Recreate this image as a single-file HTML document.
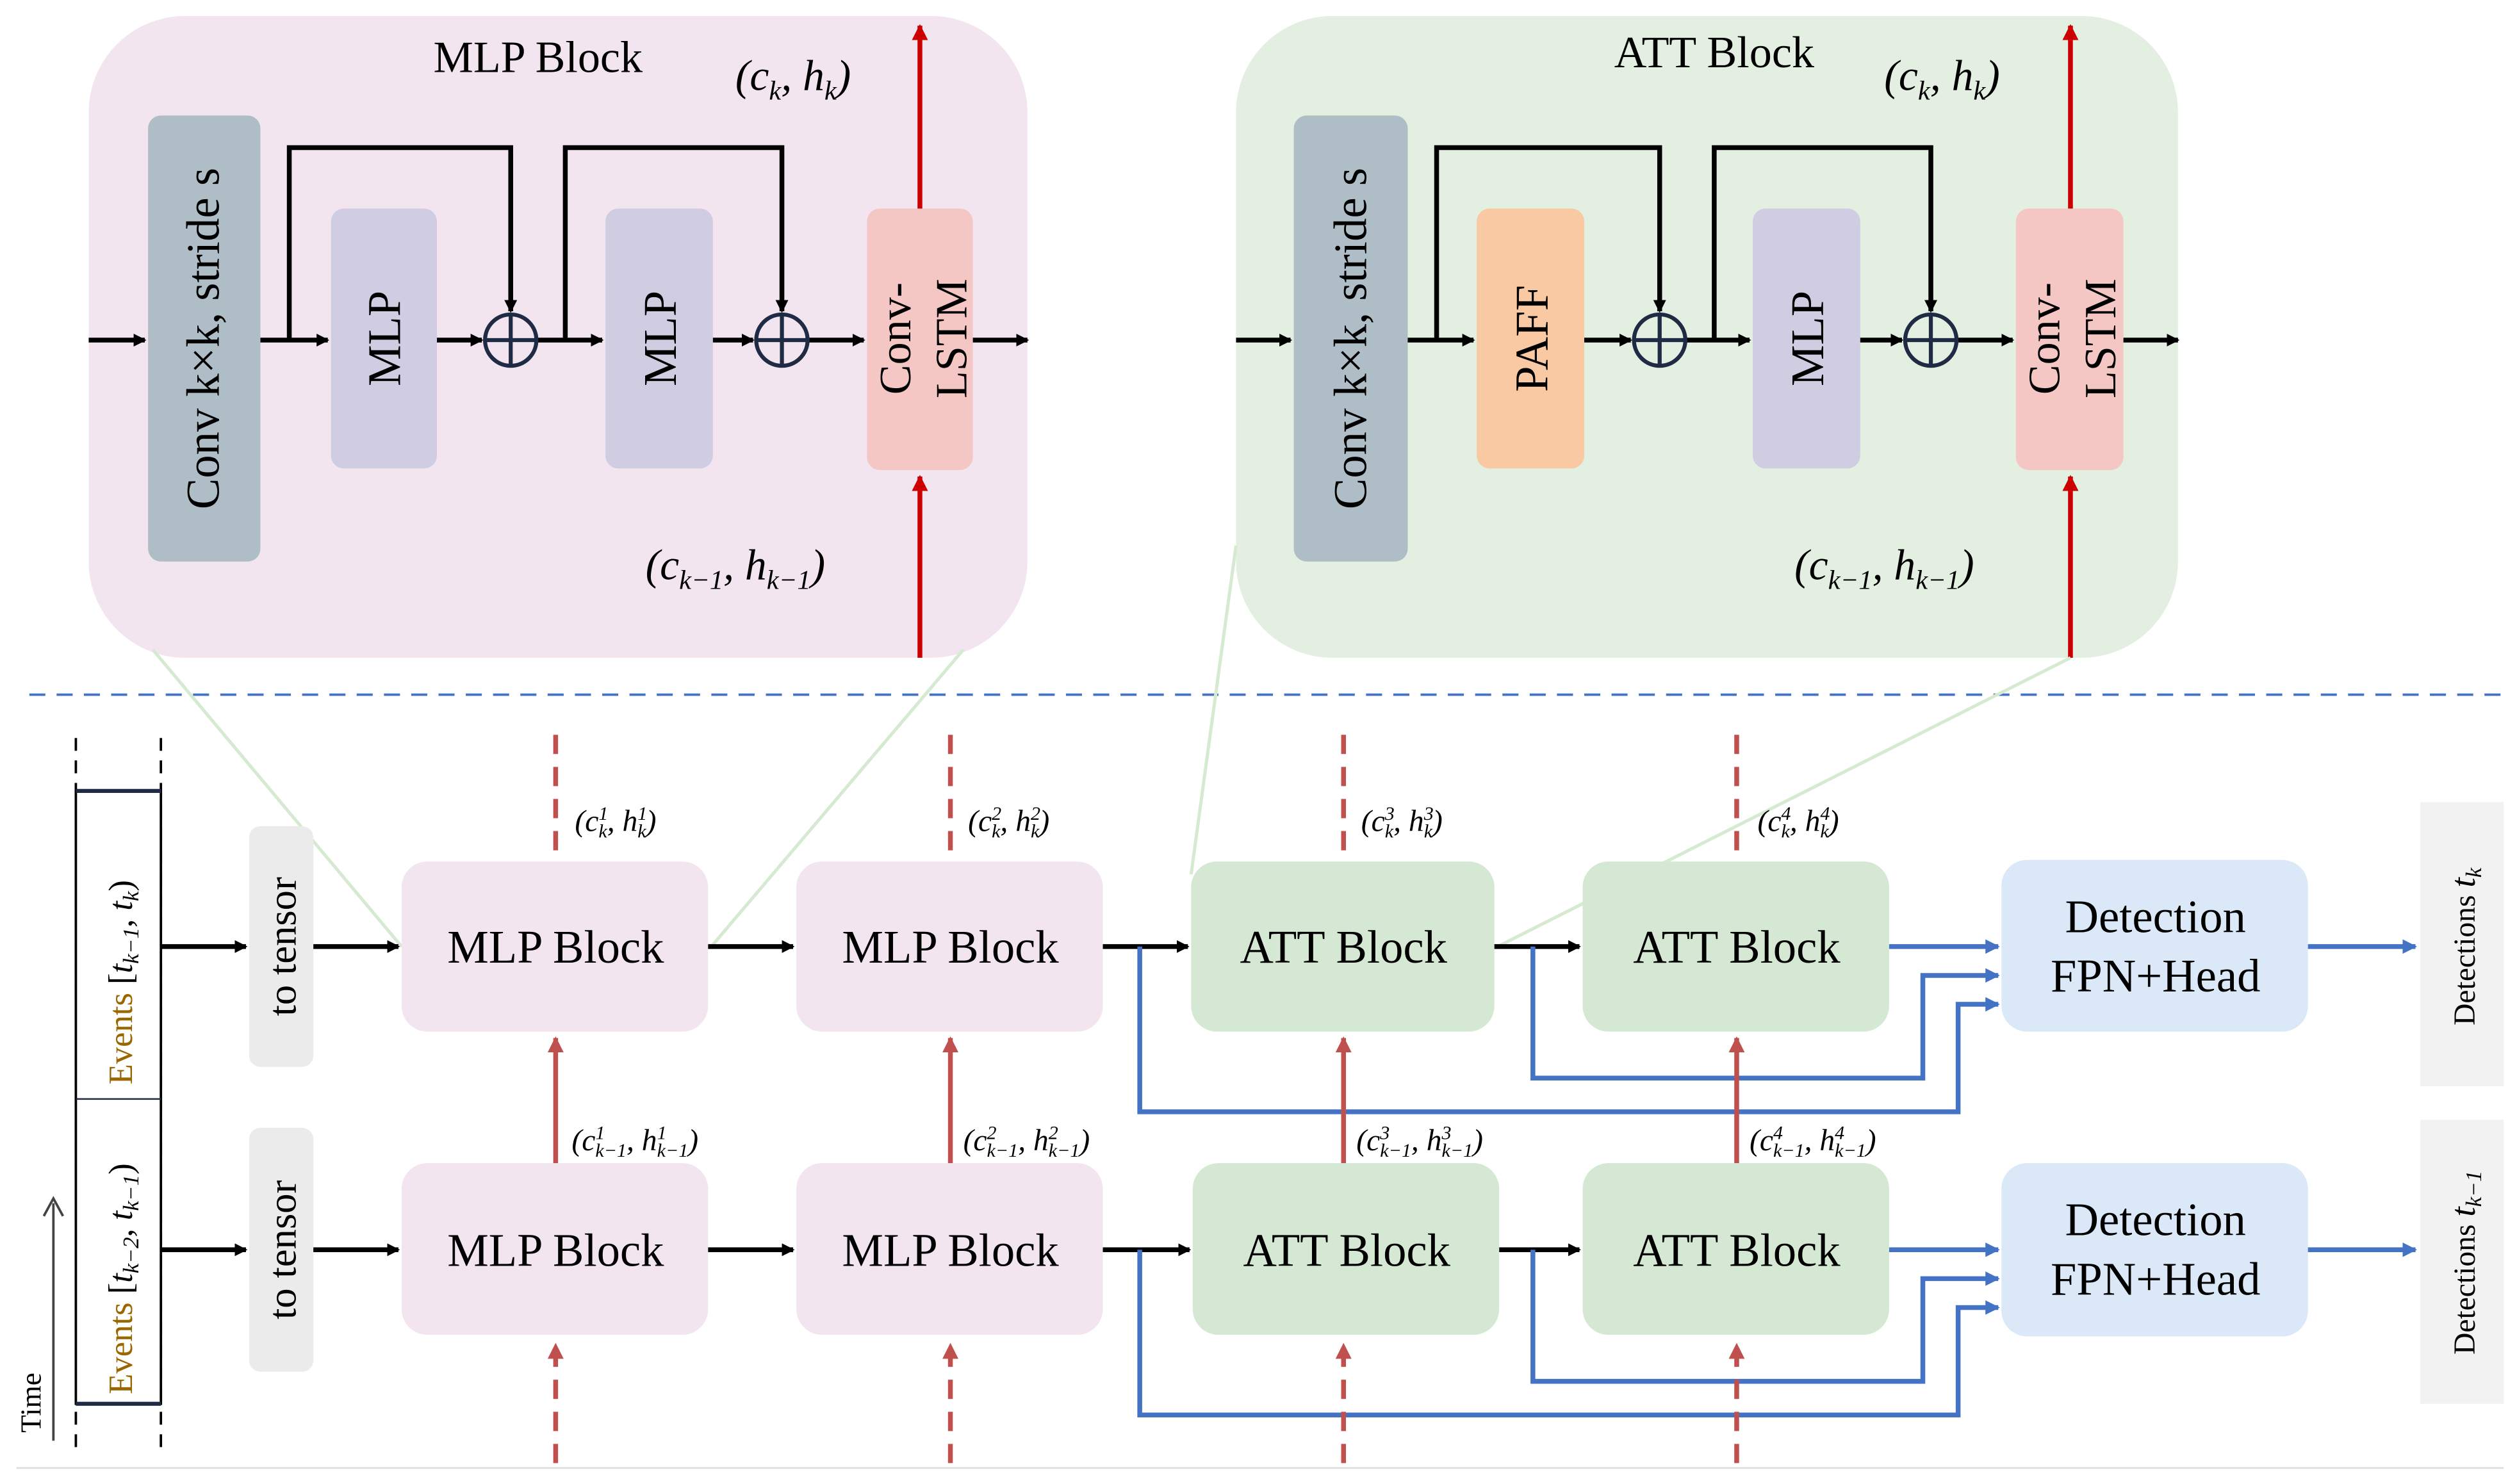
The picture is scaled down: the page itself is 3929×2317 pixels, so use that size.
<!DOCTYPE html>
<html><head><meta charset="utf-8"><style>
html,body{margin:0;padding:0;background:#fff}
svg{display:block}
svg, svg text, svg tspan{font-family:"Liberation Serif","DejaVu Serif",serif !important}
</style></head><body>
<svg width="3929" height="2317" viewBox="0 0 1568 925" xmlns="http://www.w3.org/2000/svg" font-family="Liberation Serif, serif">
<defs>
<marker id="ak" markerWidth="8" markerHeight="8" refX="7" refY="4" orient="auto" markerUnits="userSpaceOnUse"><path d="M0,0 L8,4 L0,8 z" fill="#000"/></marker>
<marker id="ar" markerWidth="10" markerHeight="10" refX="9" refY="5" orient="auto" markerUnits="userSpaceOnUse"><path d="M0,0 L10,5 L0,10 z" fill="#c0504d"/></marker>
<marker id="arr" markerWidth="10" markerHeight="10" refX="9" refY="5" orient="auto" markerUnits="userSpaceOnUse"><path d="M0,0 L10,5 L0,10 z" fill="#cc0000"/></marker>
<marker id="ab" markerWidth="9" markerHeight="9" refX="8" refY="4.5" orient="auto" markerUnits="userSpaceOnUse"><path d="M0,0 L9,4.5 L0,9 z" fill="#4472c4"/></marker>
</defs>

<!-- MLP panel -->
<rect x="55" y="10" width="585" height="400" rx="60" fill="#f2e5f0"/>
<rect x="92" y="72" width="70" height="278" rx="8" fill="#aebdc6"/>
<text transform="translate(136,211) rotate(-90)" font-size="29" text-anchor="middle">Conv k×k, stride s</text>
<rect x="206" y="130" width="66" height="162" rx="8" fill="#d0cde3"/>
<text transform="translate(249,211) rotate(-90)" font-size="29" text-anchor="middle">MLP</text>
<rect x="377" y="130" width="67" height="162" rx="8" fill="#d0cde3"/>
<text transform="translate(421,211) rotate(-90)" font-size="29" text-anchor="middle">MLP</text>
<rect x="540" y="130" width="66" height="163" rx="8" fill="#f5c7c4"/>
<text transform="translate(567,211) rotate(-90)" font-size="28" text-anchor="middle">Conv-</text>
<text transform="translate(602,211) rotate(-90)" font-size="28" text-anchor="middle">LSTM</text>
<g stroke="#000" stroke-width="3" fill="none">
<line x1="55" y1="212" x2="90" y2="212" marker-end="url(#ak)"/>
<line x1="162" y1="212" x2="204" y2="212" marker-end="url(#ak)"/>
<polyline points="180,212 180,92 318,92 318,194" marker-end="url(#ak)"/>
<line x1="272" y1="212" x2="300" y2="212" marker-end="url(#ak)"/>
<line x1="334" y1="212" x2="375" y2="212" marker-end="url(#ak)"/>
<polyline points="352,212 352,92 487,92 487,194" marker-end="url(#ak)"/>
<line x1="444" y1="212" x2="469" y2="212" marker-end="url(#ak)"/>
<line x1="503" y1="212" x2="538" y2="212" marker-end="url(#ak)"/>
<line x1="606" y1="212" x2="640" y2="212" marker-end="url(#ak)"/>
</g>
<g stroke="#1f2a44" stroke-width="2.5" fill="none">
<circle cx="318" cy="212" r="16"/><line x1="302" y1="212" x2="334" y2="212"/><line x1="318" y1="196" x2="318" y2="228"/>
<circle cx="487" cy="212" r="16"/><line x1="471" y1="212" x2="503" y2="212"/><line x1="487" y1="196" x2="487" y2="228"/>
</g>
<g stroke="#cc0000" stroke-width="3">
<line x1="573" y1="130" x2="573" y2="16" marker-end="url(#arr)"/>
<line x1="573" y1="410" x2="573" y2="297" marker-end="url(#arr)"/>
</g>
<text x="335" y="45" font-size="28" text-anchor="middle">MLP Block</text>
<text x="494" y="56" font-size="27" text-anchor="middle" font-style="italic">(c<tspan font-size="17" dy="6">k</tspan><tspan dy="-6">, h</tspan><tspan font-size="17" dy="6">k</tspan><tspan dy="-6">)</tspan></text>
<text x="458" y="361" font-size="27" text-anchor="middle" font-style="italic">(c<tspan font-size="17" dy="6">k−1</tspan><tspan dy="-6">, h</tspan><tspan font-size="17" dy="6">k−1</tspan><tspan dy="-6">)</tspan></text>

<!-- ATT panel -->
<rect x="770" y="10" width="587" height="400" rx="60" fill="#e3efe0"/>
<rect x="806" y="72" width="71" height="278" rx="8" fill="#aebdc6"/>
<text transform="translate(851,211) rotate(-90)" font-size="29" text-anchor="middle">Conv k×k, stride s</text>
<rect x="920" y="130" width="67" height="162" rx="8" fill="#f8c9a3"/>
<text transform="translate(964,211) rotate(-90)" font-size="29" text-anchor="middle">PAFF</text>
<rect x="1092" y="130" width="67" height="162" rx="8" fill="#d0cde3"/>
<text transform="translate(1136,211) rotate(-90)" font-size="29" text-anchor="middle">MLP</text>
<rect x="1256" y="130" width="67" height="163" rx="8" fill="#f5c7c4"/>
<text transform="translate(1283,211) rotate(-90)" font-size="28" text-anchor="middle">Conv-</text>
<text transform="translate(1318,211) rotate(-90)" font-size="28" text-anchor="middle">LSTM</text>
<g stroke="#000" stroke-width="3" fill="none">
<line x1="770" y1="212" x2="804" y2="212" marker-end="url(#ak)"/>
<line x1="877" y1="212" x2="918" y2="212" marker-end="url(#ak)"/>
<polyline points="895,212 895,92 1034,92 1034,194" marker-end="url(#ak)"/>
<line x1="987" y1="212" x2="1016" y2="212" marker-end="url(#ak)"/>
<line x1="1050" y1="212" x2="1090" y2="212" marker-end="url(#ak)"/>
<polyline points="1068,212 1068,92 1203,92 1203,194" marker-end="url(#ak)"/>
<line x1="1159" y1="212" x2="1185" y2="212" marker-end="url(#ak)"/>
<line x1="1219" y1="212" x2="1254" y2="212" marker-end="url(#ak)"/>
<line x1="1323" y1="212" x2="1357" y2="212" marker-end="url(#ak)"/>
</g>
<g stroke="#1f2a44" stroke-width="2.5" fill="none">
<circle cx="1034" cy="212" r="16"/><line x1="1018" y1="212" x2="1050" y2="212"/><line x1="1034" y1="196" x2="1034" y2="228"/>
<circle cx="1203" cy="212" r="16"/><line x1="1187" y1="212" x2="1219" y2="212"/><line x1="1203" y1="196" x2="1203" y2="228"/>
</g>
<g stroke="#cc0000" stroke-width="3">
<line x1="1290" y1="130" x2="1290" y2="16" marker-end="url(#arr)"/>
<line x1="1290" y1="410" x2="1290" y2="297" marker-end="url(#arr)"/>
</g>
<text x="1068" y="42" font-size="28" text-anchor="middle">ATT Block</text>
<text x="1210" y="56" font-size="27" text-anchor="middle" font-style="italic">(c<tspan font-size="17" dy="6">k</tspan><tspan dy="-6">, h</tspan><tspan font-size="17" dy="6">k</tspan><tspan dy="-6">)</tspan></text>
<text x="1174" y="361" font-size="27" text-anchor="middle" font-style="italic">(c<tspan font-size="17" dy="6">k−1</tspan><tspan dy="-6">, h</tspan><tspan font-size="17" dy="6">k−1</tspan><tspan dy="-6">)</tspan></text>

<!-- divider -->
<line x1="18" y1="433" x2="1558" y2="433" stroke="#4472c4" stroke-width="1.5" stroke-dasharray="10,7"/>

<!-- green zoom lines -->
<g stroke="#d5ead0" stroke-width="2" fill="none">
<line x1="95" y1="405" x2="250" y2="590"/>
<line x1="600" y1="405" x2="443" y2="590"/>
<line x1="770" y1="340" x2="742" y2="545"/>
<line x1="1290" y1="410" x2="933" y2="590"/>
</g>

<!-- events column -->
<g stroke="#000" stroke-width="1.5" stroke-dasharray="8,6">
<line x1="47" y1="460" x2="47" y2="905"/><line x1="100" y1="460" x2="100" y2="905"/>
</g>
<rect x="47" y="493" width="53" height="382" fill="#fff" stroke="#000" stroke-width="1.5"/>
<line x1="47" y1="493" x2="100" y2="493" stroke="#1f2a44" stroke-width="2.5"/>
<line x1="47" y1="875" x2="100" y2="875" stroke="#1f2a44" stroke-width="2.5"/>
<line x1="47" y1="685" x2="100" y2="685" stroke="#1f2a44" stroke-width="1"/>
<text transform="translate(82,676) rotate(-90)" font-size="21"><tspan fill="#996600">Events</tspan> [<tspan font-style="italic">t</tspan><tspan font-size="14" font-style="italic" dy="4">k−1</tspan><tspan dy="-4">,  </tspan><tspan font-style="italic">t</tspan><tspan font-size="14" font-style="italic" dy="4">k</tspan><tspan dy="-4">)</tspan></text>
<text transform="translate(82,869) rotate(-90)" font-size="21"><tspan fill="#996600">Events</tspan> [<tspan font-style="italic">t</tspan><tspan font-size="14" font-style="italic" dy="4">k−2</tspan><tspan dy="-4">,  </tspan><tspan font-style="italic">t</tspan><tspan font-size="14" font-style="italic" dy="4">k−1</tspan><tspan dy="-4">)</tspan></text>
<line x1="33" y1="898" x2="33" y2="750" stroke="#444" stroke-width="1.5"/>
<path d="M27,758 L33,747 L39,758" fill="none" stroke="#444" stroke-width="1.5"/>
<text transform="translate(25,893) rotate(-90)" font-size="18">Time</text>

<!-- to tensor -->
<rect x="155" y="515" width="40" height="150" rx="7" fill="#ebebeb"/>
<text transform="translate(184,590) rotate(-90)" font-size="25" text-anchor="middle">to tensor</text>
<rect x="155" y="703" width="40" height="152" rx="7" fill="#ebebeb"/>
<text transform="translate(184,779) rotate(-90)" font-size="25" text-anchor="middle">to tensor</text>

<!-- blocks -->
<g font-size="29" text-anchor="middle">
<rect x="250" y="537" width="191" height="106" rx="16" fill="#f2e5f0"/><text x="346" y="600">MLP Block</text>
<rect x="496" y="537" width="191" height="106" rx="16" fill="#f2e5f0"/><text x="592" y="600">MLP Block</text>
<rect x="742" y="537" width="189" height="106" rx="16" fill="#d5e8d4"/><text x="837" y="600">ATT Block</text>
<rect x="986" y="537" width="191" height="106" rx="16" fill="#d5e8d4"/><text x="1082" y="600">ATT Block</text>
<rect x="250" y="725" width="191" height="107" rx="16" fill="#f2e5f0"/><text x="346" y="789">MLP Block</text>
<rect x="496" y="725" width="191" height="107" rx="16" fill="#f2e5f0"/><text x="592" y="789">MLP Block</text>
<rect x="743" y="725" width="191" height="107" rx="16" fill="#d5e8d4"/><text x="839" y="789">ATT Block</text>
<rect x="986" y="725" width="191" height="107" rx="16" fill="#d5e8d4"/><text x="1082" y="789">ATT Block</text>
<rect x="1247" y="536" width="191" height="107" rx="16" fill="#dae8f8"/><text x="1343" y="581">Detection</text><text x="1343" y="618">FPN+Head</text>
<rect x="1247" y="725" width="191" height="108" rx="16" fill="#dae8f8"/><text x="1343" y="770">Detection</text><text x="1343" y="807">FPN+Head</text>
</g>
<rect x="1508" y="500" width="52" height="177" fill="#f2f2f2"/>
<text transform="translate(1542,590) rotate(-90)" font-size="19" text-anchor="middle">Detections <tspan font-style="italic" font-size="22">t</tspan><tspan font-size="14" font-style="italic" dy="4">k</tspan></text>
<rect x="1508" y="698" width="52" height="177" fill="#f2f2f2"/>
<text transform="translate(1542,787) rotate(-90)" font-size="19" text-anchor="middle">Detections <tspan font-style="italic" font-size="22">t</tspan><tspan font-size="14" font-style="italic" dy="4">k−1</tspan></text>

<!-- black row arrows -->
<g stroke="#000" stroke-width="3">
<line x1="100" y1="590" x2="153" y2="590" marker-end="url(#ak)"/>
<line x1="195" y1="590" x2="248" y2="590" marker-end="url(#ak)"/>
<line x1="441" y1="590" x2="494" y2="590" marker-end="url(#ak)"/>
<line x1="687" y1="590" x2="740" y2="590" marker-end="url(#ak)"/>
<line x1="931" y1="590" x2="984" y2="590" marker-end="url(#ak)"/>
<line x1="100" y1="779" x2="153" y2="779" marker-end="url(#ak)"/>
<line x1="195" y1="779" x2="248" y2="779" marker-end="url(#ak)"/>
<line x1="441" y1="779" x2="494" y2="779" marker-end="url(#ak)"/>
<line x1="687" y1="779" x2="741" y2="779" marker-end="url(#ak)"/>
<line x1="934" y1="779" x2="984" y2="779" marker-end="url(#ak)"/>
</g>

<!-- blue -->
<g stroke="#4472c4" stroke-width="3" fill="none">
<line x1="1177" y1="590" x2="1245" y2="590" marker-end="url(#ab)"/>
<polyline points="955,590 955,672 1198,672 1198,608 1245,608" marker-end="url(#ab)"/>
<polyline points="710,590 710,693 1220,693 1220,626 1245,626" marker-end="url(#ab)"/>
<line x1="1438" y1="590" x2="1505" y2="590" marker-end="url(#ab)"/>
<line x1="1177" y1="779" x2="1245" y2="779" marker-end="url(#ab)"/>
<polyline points="955,779 955,861 1198,861 1198,797 1245,797" marker-end="url(#ab)"/>
<polyline points="710,779 710,882 1220,882 1220,815 1245,815" marker-end="url(#ab)"/>
<line x1="1438" y1="779" x2="1505" y2="779" marker-end="url(#ab)"/>
</g>

<!-- red verticals -->
<g stroke="#c0504d" stroke-width="3">
<g stroke-dasharray="12,8">
<line x1="346" y1="458" x2="346" y2="535"/><line x1="592" y1="458" x2="592" y2="535"/>
<line x1="837" y1="458" x2="837" y2="535"/><line x1="1082" y1="458" x2="1082" y2="535"/>
<line x1="346" y1="912" x2="346" y2="838" marker-end="url(#ar)"/><line x1="592" y1="912" x2="592" y2="838" marker-end="url(#ar)"/>
<line x1="837" y1="912" x2="837" y2="838" marker-end="url(#ar)"/><line x1="1082" y1="912" x2="1082" y2="838" marker-end="url(#ar)"/>
</g>
<line x1="346" y1="725" x2="346" y2="647" marker-end="url(#ar)"/><line x1="592" y1="725" x2="592" y2="647" marker-end="url(#ar)"/>
<line x1="837" y1="725" x2="837" y2="647" marker-end="url(#ar)"/><line x1="1082" y1="725" x2="1082" y2="647" marker-end="url(#ar)"/>
</g>

<!-- state labels -->
<g font-size="19" font-style="italic">
<text x="358" y="518">(c<tspan font-size="12" dy="-7">1</tspan><tspan font-size="12" dx="-6" dy="11">k</tspan><tspan dy="-4">, h</tspan><tspan font-size="12" dy="-7">1</tspan><tspan font-size="12" dx="-6" dy="11">k</tspan><tspan dy="-4">)</tspan></text>
<text x="603" y="518">(c<tspan font-size="12" dy="-7">2</tspan><tspan font-size="12" dx="-6" dy="11">k</tspan><tspan dy="-4">, h</tspan><tspan font-size="12" dy="-7">2</tspan><tspan font-size="12" dx="-6" dy="11">k</tspan><tspan dy="-4">)</tspan></text>
<text x="848" y="518">(c<tspan font-size="12" dy="-7">3</tspan><tspan font-size="12" dx="-6" dy="11">k</tspan><tspan dy="-4">, h</tspan><tspan font-size="12" dy="-7">3</tspan><tspan font-size="12" dx="-6" dy="11">k</tspan><tspan dy="-4">)</tspan></text>
<text x="1095" y="518">(c<tspan font-size="12" dy="-7">4</tspan><tspan font-size="12" dx="-6" dy="11">k</tspan><tspan dy="-4">, h</tspan><tspan font-size="12" dy="-7">4</tspan><tspan font-size="12" dx="-6" dy="11">k</tspan><tspan dy="-4">)</tspan></text>
<text x="356" y="717">(c<tspan font-size="12" dy="-7">1</tspan><tspan font-size="12" dx="-6" dy="11">k−1</tspan><tspan dy="-4">, h</tspan><tspan font-size="12" dy="-7">1</tspan><tspan font-size="12" dx="-6" dy="11">k−1</tspan><tspan dy="-4">)</tspan></text>
<text x="600" y="717">(c<tspan font-size="12" dy="-7">2</tspan><tspan font-size="12" dx="-6" dy="11">k−1</tspan><tspan dy="-4">, h</tspan><tspan font-size="12" dy="-7">2</tspan><tspan font-size="12" dx="-6" dy="11">k−1</tspan><tspan dy="-4">)</tspan></text>
<text x="845" y="717">(c<tspan font-size="12" dy="-7">3</tspan><tspan font-size="12" dx="-6" dy="11">k−1</tspan><tspan dy="-4">, h</tspan><tspan font-size="12" dy="-7">3</tspan><tspan font-size="12" dx="-6" dy="11">k−1</tspan><tspan dy="-4">)</tspan></text>
<text x="1090" y="717">(c<tspan font-size="12" dy="-7">4</tspan><tspan font-size="12" dx="-6" dy="11">k−1</tspan><tspan dy="-4">, h</tspan><tspan font-size="12" dy="-7">4</tspan><tspan font-size="12" dx="-6" dy="11">k−1</tspan><tspan dy="-4">)</tspan></text>
</g>

<line x1="10" y1="915" x2="1560" y2="915" stroke="#ddd" stroke-width="1"/>
</svg>
</body></html>
